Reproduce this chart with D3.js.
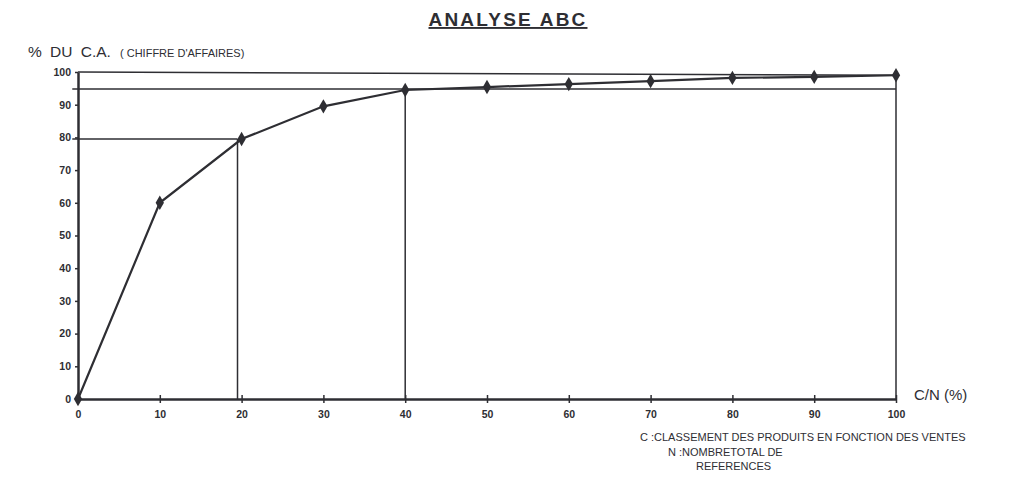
<!DOCTYPE html>
<html>
<head>
  <meta charset="utf-8">
  <style>
    body { margin: 0; background: #fff; font-family: "Liberation Sans", Arial, sans-serif; }
    svg text { fill: #2e2e33; }
  </style>
  <title>Analyse ABC</title>
</head>
<body>
  <script src="https://cdn.jsdelivr.net/npm/d3@7"></script>
  <script>
    // courbe ABC : % des references (C/N) -> % du chiffre d'affaires
    var refPct = [0, 10, 20, 30, 40, 50, 60, 70, 80, 90, 100];
    var caPct = [0, 60, 79.5, 89.5, 94.5, 95.4, 96.3, 97.2, 98.2, 98.5, 99];
    var xTicks = [0, 10, 20, 30, 40, 50, 60, 70, 80, 90, 100];
    var yTicks = [0, 10, 20, 30, 40, 50, 60, 70, 80, 90, 100];
    // lignes de lecture (classes A / B)
    var hLines = [
      { x0: 0, x1: 100, y0: 100, y1: 99 },
      { x0: -0.7, x1: 100, y0: 94.8, y1: 94.8 },
      { x0: -0.7, x1: 19.5, y0: 79.5, y1: 79.5 }
    ];
    var vLines = [
      { x: 19.5, y: 79.5 },
      { x: 40, y: 94.8 },
      { x: 100, y: 99 }
    ];
    var notes = [
      "C :CLASSEMENT DES PRODUITS EN FONCTION DES VENTES",
      "N :NOMBRETOTAL DE",
      "REFERENCES"
    ];

    var width = 1024, height = 479;
    var margin = { top: 72, right: 128, bottom: 80, left: 78 };
    var ink = "#2e2e33";

    var x = d3.scaleLinear().domain([0, 100]).range([margin.left, width - margin.right]);
    var y = d3.scaleLinear().domain([0, 100]).range([height - margin.bottom, margin.top]);

    var svg = d3.select("body").append("svg")
      .attr("width", width)
      .attr("height", height);

    // titre
    svg.append("text")
      .attr("x", 508).attr("y", 26)
      .attr("text-anchor", "middle")
      .style("font-size", "19px").style("font-weight", "bold")
      .style("letter-spacing", "2.2px")
      .style("text-decoration", "underline")
      .text("ANALYSE ABC");

    svg.append("text")
      .attr("x", 28).attr("y", 57)
      .style("font-size", "15.5px")
      .style("word-spacing", "4px")
      .text("%  DU C.A.");
    svg.append("text")
      .attr("x", 120).attr("y", 57)
      .style("font-size", "11px")
      .text("( CHIFFRE D'AFFAIRES)");

    // axes
    var xAxis = d3.axisBottom(x).tickValues(xTicks).tickSize(6).tickSizeOuter(0);
    var gx = svg.append("g")
      .attr("transform", "translate(0," + y(0) + ")")
      .call(xAxis);
    gx.selectAll(".tick line").attr("y1", -4).attr("y2", 4);
    gx.selectAll("text").attr("y", 12).style("font-size", "10.5px").style("font-weight", "bold").attr("fill", ink);

    var yAxis = d3.axisLeft(y).tickValues(yTicks).tickSize(3).tickSizeOuter(0);
    var gy = svg.append("g")
      .attr("transform", "translate(" + x(0) + ",0)")
      .call(yAxis);
    gy.selectAll("text").attr("x", -7).style("font-size", "10.5px").style("font-weight", "bold").attr("fill", ink);

    svg.selectAll(".domain").attr("stroke", ink).attr("stroke-width", 2.5);
    svg.selectAll(".tick line").attr("stroke", ink).attr("stroke-width", 1.5);

    // lignes de lecture
    svg.selectAll(".hline").data(hLines).enter().append("line")
      .attr("x1", d => x(d.x0)).attr("x2", d => x(d.x1))
      .attr("y1", d => y(d.y0)).attr("y2", d => y(d.y1))
      .attr("stroke", ink).attr("stroke-width", 1.5);

    svg.selectAll(".vline").data(vLines).enter().append("line")
      .attr("x1", d => x(d.x)).attr("x2", d => x(d.x))
      .attr("y1", d => y(d.y)).attr("y2", y(0))
      .attr("stroke", ink).attr("stroke-width", 1.5);

    // courbe
    var pts = refPct.map((r, i) => ({ x: r, y: caPct[i] }));
    var line = d3.line().x(d => x(d.x)).y(d => y(d.y));
    svg.append("path").datum(pts)
      .attr("d", line)
      .attr("fill", "none")
      .attr("stroke", ink)
      .attr("stroke-width", 2.2);

    svg.selectAll(".pt").data(pts).enter().append("path")
      .attr("d", d3.symbol().type(d3.symbolDiamond).size(60))
      .attr("transform", d => "translate(" + x(d.x) + "," + y(d.y) + ")")
      .attr("fill", ink);

    svg.append("text")
      .attr("x", 914).attr("y", 400)
      .style("font-size", "15px")
      .text("C/N (%)");

    var noteX = [640, 668, 696];
    svg.selectAll(".note").data(notes).enter().append("text")
      .attr("x", (d, i) => noteX[i])
      .attr("y", (d, i) => 441 + i * 14.5)
      .style("font-size", "11px")
      .text(d => d);
  </script>
</body>
</html>
